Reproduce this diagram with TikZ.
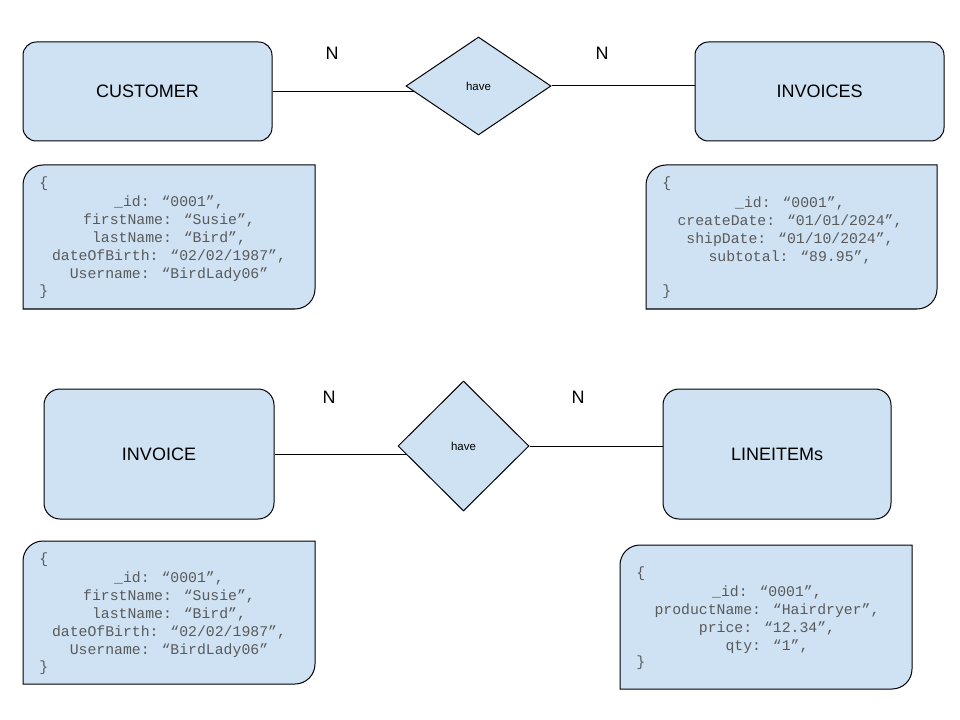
\documentclass[tikz,border=0pt]{standalone}
\usepackage{fontspec}
\setmainfont{Liberation Sans}
\newfontfamily\codefont{Liberation Mono}
\usetikzlibrary{shapes.geometric}

\definecolor{boxfill}{HTML}{CFE2F3}
\definecolor{codegray}{HTML}{5A5A5A}

\begin{document}
\begin{tikzpicture}[x=0.75pt,y=-0.75pt,
  entity/.style={draw=black, fill=boxfill, line width=0.75pt, rounded corners=10pt,
    inner sep=0pt, font=\fontsize{13.5}{16}\selectfont},
  relation/.style={draw=black, fill=boxfill, line width=0.75pt, diamond, inner sep=0pt,
    font=\fontsize{8.6}{10}\selectfont},
  card/.style={font=\fontsize{13.5}{16}\selectfont},
  link/.style={draw=black, line width=0.75pt},
  docbox/.style={draw=black, fill=boxfill, line width=0.75pt},
  doctext/.style={inner sep=0pt, align=center, text=codegray,
    font=\codefont\fontsize{11.1}{13.5}\selectfont},
  brace/.style={inner sep=0pt, anchor=west, text=codegray,
    font=\codefont\fontsize{11.1}{13.5}\selectfont}
]
\useasboundingbox (0,0) rectangle (960,720);
\fill[white] (0,0) rectangle (960,720);

% ---------- customer / invoices ----------
\node[entity, minimum width=186.75pt, minimum height=74.25pt] (cust) at (147.5,91.5) {CUSTOMER};
\node[entity, minimum width=186.75pt, minimum height=74.25pt] (invs) at (819.5,91.5) {INVOICES};
\node[relation, minimum width=108.75pt, minimum height=73.5pt] (have1) at (478.5,86) {have};

\draw[link] (cust.east) -- (cust.east -| have1.185);
\draw[link] (have1.east) -- (have1.east -| invs.west);

\node[card] (n1) at (332,53) {N};
\node[card] (n2) at (602,53) {N};

% customer document
\draw[docbox] (23,309) -- (23,185) arc[start angle=180, end angle=270, radius=20]
  -- (315,165) -- (315,289) arc[start angle=0, end angle=90, radius=20] -- cycle;
\node[brace] (c1open) at (39,184) {\{};
\node[doctext] (c1body) at (169,239) {\_id: “0001”,\\firstName: “Susie”,\\lastName: “Bird”,\\dateOfBirth: “02/02/1987”,\\Username: “BirdLady06”};
\node[brace] (c1close) at (39,292) {\}};

% invoices document
\draw[docbox] (646,309) -- (646,185) arc[start angle=180, end angle=270, radius=20]
  -- (937,165) -- (937,289) arc[start angle=0, end angle=90, radius=20] -- cycle;
\node[brace] (i1open) at (662,184) {\{};
\node[doctext] (i1body) at (790,230) {\_id: “0001”,\\createDate: “01/01/2024”,\\shipDate: “01/10/2024”,\\subtotal: “89.95”,};
\node[brace] (i1close) at (662,292) {\}};

% ---------- invoice / line items ----------
\node[entity, minimum width=172.5pt, minimum height=97.5pt, rounded corners=12pt] (inv) at (159,454) {INVOICE};
\node[entity, minimum width=171pt, minimum height=97.5pt, rounded corners=12pt] (items) at (777,454) {LINEITEMs};
\node[relation, minimum width=98.25pt, minimum height=97.5pt] (have2) at (463.5,446) {have};

\draw[link] (inv.east) -- (inv.east -| have2.188);
\draw[link] (have2.east) -- (have2.east -| items.west);

\node[card] (n3) at (329,397) {N};
\node[card] (n4) at (578,397) {N};

% invoice document
\draw[docbox] (23,684) -- (23,561) arc[start angle=180, end angle=270, radius=20]
  -- (315,541) -- (315,664) arc[start angle=0, end angle=90, radius=20] -- cycle;
\node[brace] (i2open) at (39,560) {\{};
\node[doctext] (i2body) at (169,615) {\_id: “0001”,\\firstName: “Susie”,\\lastName: “Bird”,\\dateOfBirth: “02/02/1987”,\\Username: “BirdLady06”};
\node[brace] (i2close) at (39,668) {\}};

% line item document
\draw[docbox] (620,689) -- (620,565) arc[start angle=180, end angle=270, radius=20]
  -- (912,545) -- (912,669) arc[start angle=0, end angle=90, radius=20] -- cycle;
\node[brace] (l1open) at (636,574) {\{};
\node[doctext] (l1body) at (767,620) {\_id: “0001”,\\productName: “Hairdryer”,\\price: “12.34”,\\qty: “1”,};
\node[brace] (l1close) at (636,663) {\}};
\end{tikzpicture}
\end{document}
